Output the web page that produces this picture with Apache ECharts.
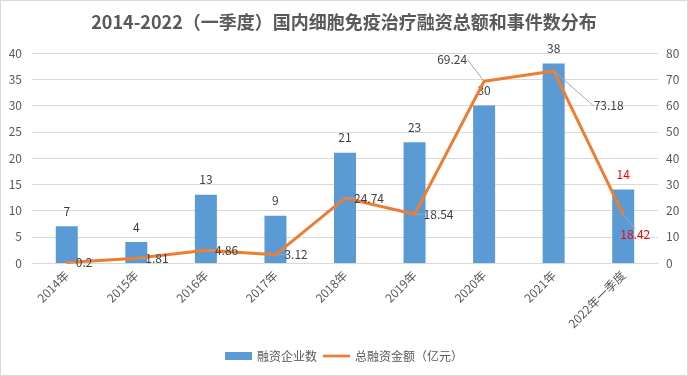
<!DOCTYPE html>
<html>
<head>
<meta charset="utf-8">
<script src="https://cdn.jsdelivr.net/npm/echarts@6/dist/echarts.min.js"></script>
<style>
    html, body { margin: 0; padding: 0; background: #fff; }
    #chart { width: 686px; height: 374px; border: 1px solid #d9d9d9; }
</style>
</head>
<body>
<div id="chart"></div>
<script>
// 年份
let years = ['2014年', '2015年', '2016年', '2017年', '2018年', '2019年', '2020年', '2021年', '2022年一季度'];
// 融资企业数
let companyCounts = [7, 4, 13, 9, 21, 23, 30, 38, 14];
// 总融资金额（亿元）
let amounts = [0.2, 1.81, 4.86, 3.12, 24.74, 18.54, 69.24, 73.18, 18.42];

let txt = '#595959';
let font = '"Noto Sans CJK SC", "Noto Sans", sans-serif';

// 折线标签的位置偏移（参考图中的引导线）
let lineLabelShift = {
    6: { dx: -14, dy: -22 },
    7: { dx: 31, dy: 35 },
    8: { dx: -12, dy: 20 },
};

let barData = companyCounts.map(function (v, i) {
    let item = { value: v };
    if (i === 8) {
        item.label = { color: '#ff0000' };
    }
    return item;
});

let lineData = amounts.map(function (v, i) {
    let item = { value: v };
    if (i === 6) {
        item.label = { position: 'left', distance: 2 };
    }
    if (i === 8) {
        item.label = { color: '#ff0000' };
    }
    return item;
});

let chart = echarts.init(document.getElementById('chart'));
chart.setOption({
    animation: false,
    textStyle: { fontFamily: font },
    title: {
        text: '2014-2022（一季度）国内细胞免疫治疗融资总额和事件数分布',
        left: 'center',
        top: 7,
        textStyle: { fontSize: 18, fontWeight: 'bold', color: txt, fontFamily: font },
    },
    legend: {
        bottom: 8,
        left: 'center',
        itemGap: 6,
        itemWidth: 27,
        itemHeight: 8,
        textStyle: { color: txt, fontSize: 12, fontFamily: font },
        data: [
            { name: '融资企业数', icon: 'rect' },
            { name: '总融资金额（亿元）', icon: 'path://M0 0H30V3H0Z' },
        ],
    },
    grid: { left: 31, right: 29, top: 52, bottom: 112 },
    xAxis: {
        type: 'category',
        data: years,
        axisLine: { lineStyle: { color: '#d9d9d9' } },
        axisTick: { show: false },
        axisLabel: { rotate: 45, color: txt, fontSize: 12, margin: 10, interval: 0 },
    },
    yAxis: [
        {
            type: 'value',
            min: 0,
            max: 40,
            interval: 5,
            axisLine: { show: false },
            axisTick: { show: false },
            axisLabel: { color: txt, fontSize: 12, margin: 10 },
            splitLine: { lineStyle: { color: '#d9d9d9' } },
        },
        {
            type: 'value',
            min: 0,
            max: 80,
            interval: 10,
            axisLine: { show: false },
            axisTick: { show: false },
            axisLabel: { color: txt, fontSize: 12, margin: 8 },
            splitLine: { show: false },
        },
    ],
    series: [
        {
            name: '融资企业数',
            type: 'bar',
            data: barData,
            barWidth: 22,
            itemStyle: { color: '#5b9bd5' },
            label: { show: true, position: 'top', distance: 9, color: '#404040', fontSize: 12 },
        },
        {
            name: '总融资金额（亿元）',
            type: 'line',
            yAxisIndex: 1,
            data: lineData,
            symbol: 'circle',
            symbolSize: 2,
            lineStyle: { color: '#ed7d31', width: 3 },
            itemStyle: { color: '#ed7d31' },
            label: { show: true, position: 'right', distance: 8, color: '#404040', fontSize: 12, offset: [0, 4] },
            labelLine: { show: true, lineStyle: { color: '#a6a6a6', width: 1 } },
            labelLayout: function (params) {
                let s = lineLabelShift[params.dataIndex];
                if (s) {
                    return { dx: s.dx, dy: s.dy };
                }
                return {};
            },
        },
    ],
});
</script>
</body>
</html>
